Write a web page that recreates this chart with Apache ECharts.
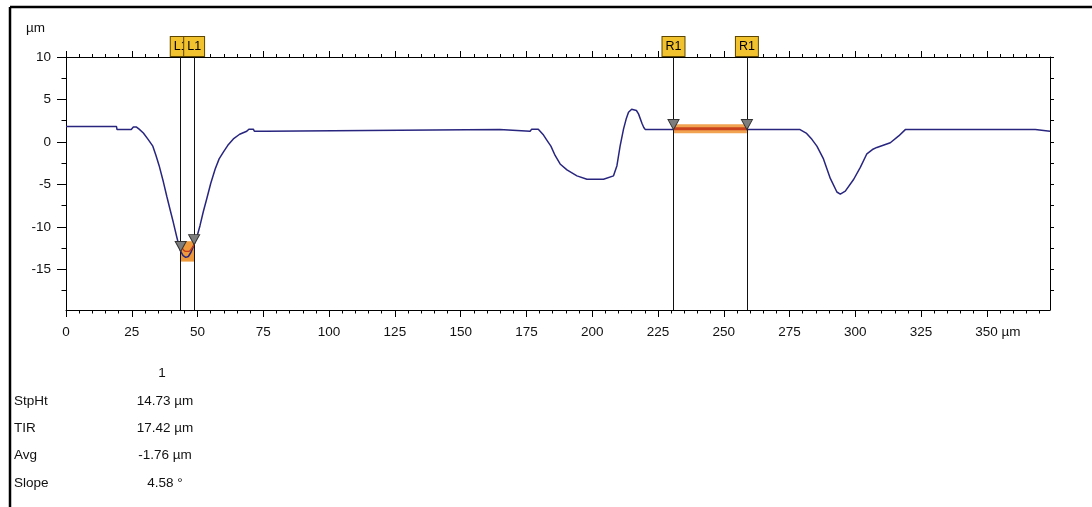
<!DOCTYPE html>
<html>
<head>
<meta charset="utf-8">
<script src="https://cdn.jsdelivr.net/npm/echarts@6/dist/echarts.min.js"></script>
<style>
  html, body { margin: 0; padding: 0; background: #fff; }
  #main { width: 1092px; height: 507px; }
</style>
</head>
<body>
<div id="main"></div>
<script>
// 轮廓数据 (µm)
var profileX = [0, 19.2, 19.4, 24.8, 25.6, 26.8, 27.8, 29.4, 31.2, 33.0, 34.2, 35.4, 37.0, 38.3, 39.5, 40.8, 42.1, 43.0, 43.6, 44.5,
	45.5, 46.5, 47.5, 48.7, 50.0, 50.9, 52.2, 53.5, 55.0, 56.7, 58.2, 59.8, 61.5, 63.6, 66.0, 68.7, 69.5, 71.2, 71.6, 76.2,
	76.4, 164.8, 165.0, 176.4, 177.0, 179.5, 181.5, 183.0, 184.3, 185.9, 187.8, 190.4, 194.2, 198.0, 204.3, 208.1, 209.4, 210.6, 211.9, 213.0,
	213.8, 215.0, 215.7, 216.8, 217.6, 218.9, 219.6, 220.2, 279.0, 281.5, 283.5, 285.4, 287.9, 290.5, 293.0, 294.3, 296.2, 299.4, 301.9, 304.4,
	306.5, 308.2, 313.3, 316.5, 319.0, 368.4, 368.6, 374];
var profileY = [1.8, 1.8, 1.45, 1.45, 1.75, 1.75, 1.5, 1.05, 0.3, -0.5, -1.6, -2.8, -4.7, -6.4, -7.9, -9.5, -11.2, -12.3, -12.9, -13.4,
	-13.6, -13.5, -13.0, -12.1, -10.9, -9.9, -8.2, -6.7, -4.9, -3.2, -2.0, -1.2, -0.4, 0.35, 0.9, 1.25, 1.5, 1.5, 1.25, 1.25,
	1.45, 1.45, 1.25, 1.25, 1.5, 1.5, 0.8, 0.1, -0.5, -1.6, -2.6, -3.3, -4.0, -4.4, -4.4, -4.0, -2.8, -0.5, 1.5, 2.8,
	3.5, 3.85, 3.85, 3.7, 3.3, 2.2, 1.7, 1.45, 1.45, 1.0, 0.3, -0.5, -2.0, -4.3, -5.9, -6.15, -5.8, -4.4, -3.0, -1.4,
	-0.9, -0.65, -0.1, 0.7, 1.45, 1.45, 1.25, 1.25];

// 光标
var cursorX = [43.6, 48.7, 230.9, 258.8];
var cursorNames = ['L1', 'L1', 'R1', 'R1'];

// 拟合区域
var fitLX = [43.6, 44.6, 45.6, 46.6, 47.6, 48.7];
var fitLY = [-12.2, -12.7, -12.9, -12.9, -12.6, -12.1];
var fitLBox = [-11.7, -14.1];
var fitRX = [230.9, 258.8];
var fitRY = [1.55, 1.55];

// 刻度
var xMajor = [0, 25, 50, 75, 100, 125, 150, 175, 200, 225, 250, 275, 300, 325, 350];
var xMinor = [];
for (var i = 0; i <= 370; i += 5) { if (i % 25 !== 0) xMinor.push(i); }
var yMajor = [-15, -10, -5, 0, 5, 10];
var yMinor = [-17.5, -12.5, -7.5, -2.5, 2.5, 7.5];
var yRight = [-17.5, -15, -12.5, -10, -7.5, -5, -2.5, 0, 2.5, 5, 7.5, 10];

// 统计
var statNames = ['StpHt', 'TIR', 'Avg', 'Slope'];
var statValues = ['14.73 µm', '17.42 µm', '-1.76 µm', '4.58 °'];

var FONT = '"Liberation Sans", Arial, sans-serif';
var FS = 13.5;
var X_MIN = 0, X_MAX = 374, Y_MIN = -19.8, Y_MAX = 10;

function zip(xs, ys) {
	var out = [];
	for (var i = 0; i < xs.length; i++) out.push([xs[i], ys[i]]);
	return out;
}
function interp(x) {
	for (var i = 1; i < profileX.length; i++) {
		if (x <= profileX[i]) {
			var t = (x - profileX[i - 1]) / (profileX[i] - profileX[i - 1]);
			return profileY[i - 1] + t * (profileY[i] - profileY[i - 1]);
		}
	}
	return profileY[profileY.length - 1];
}

function xAxisDef(pos, ticks, len, showLine, labels) {
	return {
		type: 'value', position: pos, min: X_MIN, max: X_MAX, gridIndex: 0,
		axisLine: { show: showLine, onZero: false, lineStyle: { color: '#000', width: 1 } },
		axisTick: { show: true, inside: false, length: len, customValues: ticks, lineStyle: { color: '#000', width: 1 } },
		axisLabel: labels ? {
			show: true, customValues: xMajor, margin: 15, fontSize: FS, color: '#111', fontFamily: FONT,
			formatter: function (v) { return v === 350 ? '{p|}{n|350}{n| µm}' : '{n|' + v + '}'; },
			rich: { p: { width: 22 }, n: { fontSize: FS, color: '#111', fontFamily: FONT } }
		} : { show: false },
		splitLine: { show: false }
	};
}
function yAxisDef(pos, ticks, len, showLine, labels) {
	return {
		type: 'value', position: pos, min: Y_MIN, max: Y_MAX, gridIndex: 0,
		axisLine: { show: showLine, onZero: false, lineStyle: { color: '#000', width: 1 } },
		axisTick: { show: true, inside: false, length: len, customValues: ticks, lineStyle: { color: '#000', width: 1 } },
		axisLabel: labels ? { show: true, customValues: yMajor, margin: 15, fontSize: FS, color: '#111', fontFamily: FONT } : { show: false },
		splitLine: { show: false }
	};
}

var markPts = [];
var markLns = [];
for (var k = 0; k < cursorX.length; k++) {
	markPts.push({ coord: [cursorX[k], interp(cursorX[k])] });
	markLns.push({ xAxis: cursorX[k], label: { formatter: cursorNames[k] } });
}

// 边框和统计文字
var graphics = [
	{ type: 'line', shape: { x1: 10, y1: 7, x2: 1092, y2: 7 }, style: { stroke: '#000', lineWidth: 2.5 } },
	{ type: 'line', shape: { x1: 10, y1: 7, x2: 10, y2: 507 }, style: { stroke: '#000', lineWidth: 2.5 } },
	{ type: 'text', x: 26, y: 28, style: { text: 'µm', font: FS + 'px ' + FONT, fill: '#111', textVerticalAlign: 'middle' } },
	{ type: 'text', x: 162, y: 373, style: { text: '1', font: FS + 'px ' + FONT, fill: '#111', textAlign: 'center', textVerticalAlign: 'middle' } }
];
for (var s = 0; s < statNames.length; s++) {
	var yy = 401 + s * 27.3;
	graphics.push({ type: 'text', x: 14, y: yy, style: { text: statNames[s], font: FS + 'px ' + FONT, fill: '#111', textVerticalAlign: 'middle' } });
	graphics.push({ type: 'text', x: 165, y: yy, style: { text: statValues[s], font: FS + 'px ' + FONT, fill: '#111', textAlign: 'center', textVerticalAlign: 'middle' } });
}

var chart = echarts.init(document.getElementById('main'), null, { renderer: 'canvas' });
var option = {
	animation: false,
	backgroundColor: '#fff',
	grid: { left: 66, top: 57, right: 42, bottom: 197, containLabel: false },
	xAxis: [
		xAxisDef('bottom', xMajor, 7, true, true),
		xAxisDef('bottom', xMinor, 3.5, false, false),
		xAxisDef('top', xMajor, 6, true, false),
		xAxisDef('top', xMinor, 3, false, false)
	],
	yAxis: [
		yAxisDef('left', yMajor, 9, true, true),
		yAxisDef('left', yMinor, 4.5, false, false),
		yAxisDef('right', yRight, 4, true, false)
	],
	graphic: graphics,
	series: [
		{
			name: 'profile', type: 'line', xAxisIndex: 0, yAxisIndex: 0, z: 2,
			data: zip(profileX, profileY), showSymbol: false, symbol: 'none',
			lineStyle: { color: '#28257f', width: 1.5 }
		},
		{
			name: 'fitL', type: 'line', xAxisIndex: 0, yAxisIndex: 0, z: 3,
			data: zip(fitLX, fitLY), showSymbol: false, symbol: 'none', smooth: true,
			lineStyle: { color: '#c43a1a', width: 1.3 },
			markArea: {
				silent: true,
				itemStyle: { color: '#ee9a3c' },
				data: [[{ xAxis: fitLX[0], yAxis: fitLBox[0] }, { xAxis: fitLX[fitLX.length - 1], yAxis: fitLBox[1] }]]
			}
		},
		{
			name: 'fitRband', type: 'line', xAxisIndex: 0, yAxisIndex: 0, z: 3,
			data: zip(fitRX, fitRY), showSymbol: false, symbol: 'none',
			lineStyle: { color: '#f1a352', width: 9, cap: 'butt' }
		},
		{
			name: 'fitRcore', type: 'line', xAxisIndex: 0, yAxisIndex: 0, z: 4,
			data: zip(fitRX, fitRY), showSymbol: false, symbol: 'none',
			lineStyle: { color: '#c9421d', width: 3, cap: 'butt' },
			markLine: {
				silent: true, symbol: ['none', 'none'], animation: false,
				lineStyle: { color: '#111', width: 1, type: 'solid' },
				label: {
					show: true, position: 'end', distance: 1,
					fontSize: 12.5, fontFamily: FONT, color: '#000', lineHeight: 14,
					backgroundColor: '#f2c12e', borderColor: '#5c4600', borderWidth: 1,
					padding: [3, 3, 2, 3]
				},
				emphasis: { disabled: true },
				data: markLns
			},
			markPoint: {
				silent: true, symbol: 'triangle', symbolRotate: 180, symbolSize: [11, 10], symbolOffset: [0, -5],
				itemStyle: { color: '#7d7d7d', borderColor: '#333', borderWidth: 1 },
				label: { show: false },
				data: markPts
			}
		}
	]
};
chart.setOption(option);
</script>
</body>
</html>
